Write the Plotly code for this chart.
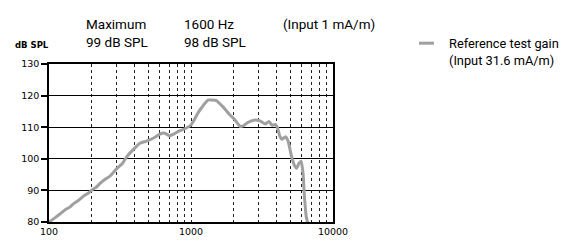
import plotly.graph_objects as go

# Data
freq_hz = [100, 110, 120, 130, 140, 150, 160, 175, 190, 200, 215, 230, 250, 270,
           300, 330, 342, 361, 400, 436, 486, 541, 616, 653, 708, 760, 811, 903,
           1000, 1060, 1126, 1190, 1254, 1320, 1400, 1510, 1640, 1750, 1870, 2040,
           2210, 2330, 2480, 2640, 2850, 3090, 3330, 3540, 3730, 3920, 4060, 4220,
           4370, 4630, 4830, 5080, 5340, 5550, 5760, 5970, 6160, 6290, 6490, 6660]
gain_db = [80.0, 81.3, 82.6, 83.9, 84.7, 85.9, 86.7, 88.2, 89.2, 90.1, 91.0, 92.3, 93.6, 94.6,
           96.9, 98.6, 99.7, 101.2, 103.3, 104.9, 105.6, 106.5, 108.0, 108.1, 107.3, 107.9, 108.6, 109.5,
           110.7, 112.5, 114.7, 116.2, 117.6, 118.6, 118.6, 118.4, 116.9, 115.5, 114.0, 112.3,
           110.3, 110.4, 111.3, 111.9, 112.3, 111.9, 111.0, 111.8, 110.6, 110.9, 109.9, 107.2,
           106.2, 107.0, 105.6, 101.2, 98.0, 97.0, 98.6, 99.2, 95.2, 88.2, 81.5, 79.5]

x_tick_vals = [100, 200, 300, 400, 500, 600, 700, 800, 900,
               1000, 2000, 3000, 4000, 5000, 6000, 7000, 8000, 9000, 10000]
x_tick_text = ["100", "", "", "", "", "", "", "", "",
               "1000", "", "", "", "", "", "", "", "", "10000"]
y_tick_vals = [80, 90, 100, 110, 120, 130]

series_name = "Reference test gain<br>(Input 31.6 mA/m)"

LINE_COLOR = "#a0a0a0"
HEAD_FONT = "Roboto, sans-serif"
TICK_FONT = "DejaVu Sans, Verdana, sans-serif"

fig = go.Figure()
fig.add_trace(go.Scatter(
    x=freq_hz, y=gain_db, mode="lines", name=series_name,
    line=dict(color=LINE_COLOR, width=3, shape="spline", smoothing=0.4),
    showlegend=False,
))

fig.update_layout(
    width=567, height=249,
    margin=dict(l=49, r=234, t=64, b=18),
    paper_bgcolor="white", plot_bgcolor="white",
    font=dict(family=TICK_FONT, size=9.5, color="black"),
    xaxis=dict(
        type="log", range=[2, 4],
        tickmode="array", tickvals=x_tick_vals, ticktext=x_tick_text,
        showgrid=True, gridcolor="#222222", gridwidth=1, griddash="dot",
        showline=True, linecolor="black", linewidth=1.5, mirror=True,
        ticks="", ticklen=0, zeroline=False,
        tickfont=dict(family=TICK_FONT, size=9.5, color="black"),
    ),
    yaxis=dict(
        range=[80, 130],
        tickmode="array", tickvals=y_tick_vals,
        showgrid=True, gridcolor="black", gridwidth=1,
        showline=True, linecolor="black", linewidth=1.5, mirror=True,
        ticks="outside", ticklen=6, tickcolor="black", tickwidth=1.5,
        zeroline=False,
        tickfont=dict(family=TICK_FONT, size=9.5, color="black"),
    ),
)

PW = 567 - 49 - 234
PH = 249 - 64 - 18


def px(xp):
    return (xp - 49) / PW


def py(yp):
    return (249 - 18 - yp) / PH


def ann(text, x, y, size, family=HEAD_FONT, anchor="left", yanchor="top"):
    fig.add_annotation(text=text, x=x, y=y, xref="paper", yref="paper",
                       xanchor=anchor, yanchor=yanchor, showarrow=False,
                       font=dict(family=family, size=size, color="black"),
                       align="left")


ann("Maximum<br>99 dB SPL", px(84), py(11), 13.5)
ann("1600 Hz<br>98 dB SPL", px(182), py(11), 13.5)
ann("(Input 1 mA/m)", px(281), py(11), 13.5)
ann("<b>dB SPL</b>", px(13), py(37), 8.5, family=TICK_FONT)

# Legend
fig.add_shape(type="line", xref="paper", yref="paper",
              x0=px(419), x1=px(434), y0=py(42), y1=py(42),
              line=dict(color=LINE_COLOR, width=3))
ann(series_name, px(447), py(32), 12.8)

fig.write_html("out.html", config={"displayModeBar": False},
               post_script="document.body.style.margin='0';")
